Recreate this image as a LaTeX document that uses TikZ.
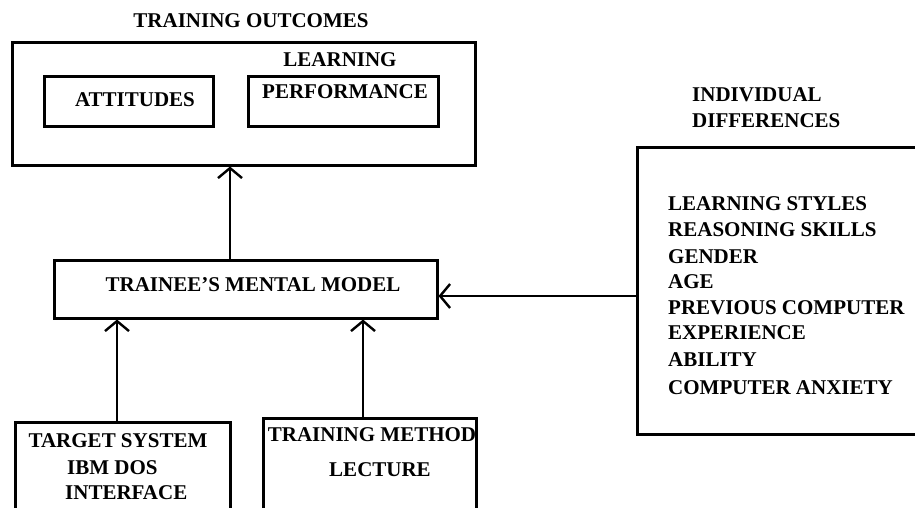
\documentclass[tikz,border=0pt]{standalone}
\usepackage{fontspec}
\setmainfont{Liberation Serif}
\usetikzlibrary{arrows.meta}
\begin{document}
\begin{tikzpicture}[x=1pt,y=-1pt,
  box/.style={draw, line width=3pt, inner sep=0pt},
  lbl/.style={font=\bfseries\fontsize{21}{26}\selectfont, inner sep=0pt},
  arr/.style={-{Straight Barb[length=10pt,width=24pt,line width=2.4pt]}, line width=2.8pt}]
\clip (0,0) rectangle (915,508);
\fill[white] (0,0) rectangle (915,508);
% training outcomes
\node[lbl] (title) at (251,21) {TRAINING OUTCOMES};
\node[box, minimum width=463pt, minimum height=122pt] (outcomes) at (243.5,104) {};
\node[lbl] (learn) at (340,60) {LEARNING};
\node[box, minimum width=169pt, minimum height=50pt] (attbox) at (128.5,102) {};
\node[lbl] (att) at (135,100) {ATTITUDES};
\node[box, minimum width=190pt, minimum height=50pt] (perfbox) at (343,102) {};
\node[lbl] (perf) at (345,92) {PERFORMANCE};
% mental model
\node[box, minimum width=383pt, minimum height=58pt] (mm) at (245.5,289) {};
\node[lbl] (mmtext) at (253,285) {TRAINEE'S MENTAL MODEL};
% target system
\node[box, minimum width=215pt, minimum height=109pt] (target) at (122.5,476.5) {};
\node[lbl] (tgt1) at (118,441) {TARGET SYSTEM};
\node[lbl, anchor=west] (tgt2) at (67,468) {IBM DOS};
\node[lbl, anchor=west] (tgt3) at (65,493) {INTERFACE};
% training method
\node[box, minimum width=213pt, minimum height=112pt] (method) at (369.5,474) {};
\node[lbl] (meth1) at (372,435) {TRAINING METHOD};
\node[lbl] (meth2) at (380,470) {LECTURE};
% individual differences
\node[lbl, anchor=west] (id1) at (692,95) {INDIVIDUAL};
\node[lbl, anchor=west] (id2) at (692,121) {DIFFERENCES};
\node[box, minimum width=292pt, minimum height=287pt] (idbox) at (783,290.5) {};
\node[lbl, anchor=west] (l1) at (668,204) {LEARNING STYLES};
\node[lbl, anchor=west] (l2) at (668,230) {REASONING SKILLS};
\node[lbl, anchor=west] (l3) at (668,257) {GENDER};
\node[lbl, anchor=west] (l4) at (668,282) {AGE};
\node[lbl, anchor=west] (l5) at (668,308) {PREVIOUS COMPUTER};
\node[lbl, anchor=west] (l6) at (668,333) {EXPERIENCE};
\node[lbl, anchor=west] (l7) at (668,360) {ABILITY};
\node[lbl, anchor=west] (l8) at (668,388) {COMPUTER ANXIETY};
% connectors
\draw[arr] (mm.north -| 230,0) -- (outcomes.south -| 230,0);
\draw[arr] (target.north -| 117,0) -- (mm.south -| 117,0);
\draw[arr] (method.north -| 363,0) -- (mm.south -| 363,0);
\draw[arr] (idbox.west |- 0,296) -- (mm.east |- 0,296);
\end{tikzpicture}
\end{document}
